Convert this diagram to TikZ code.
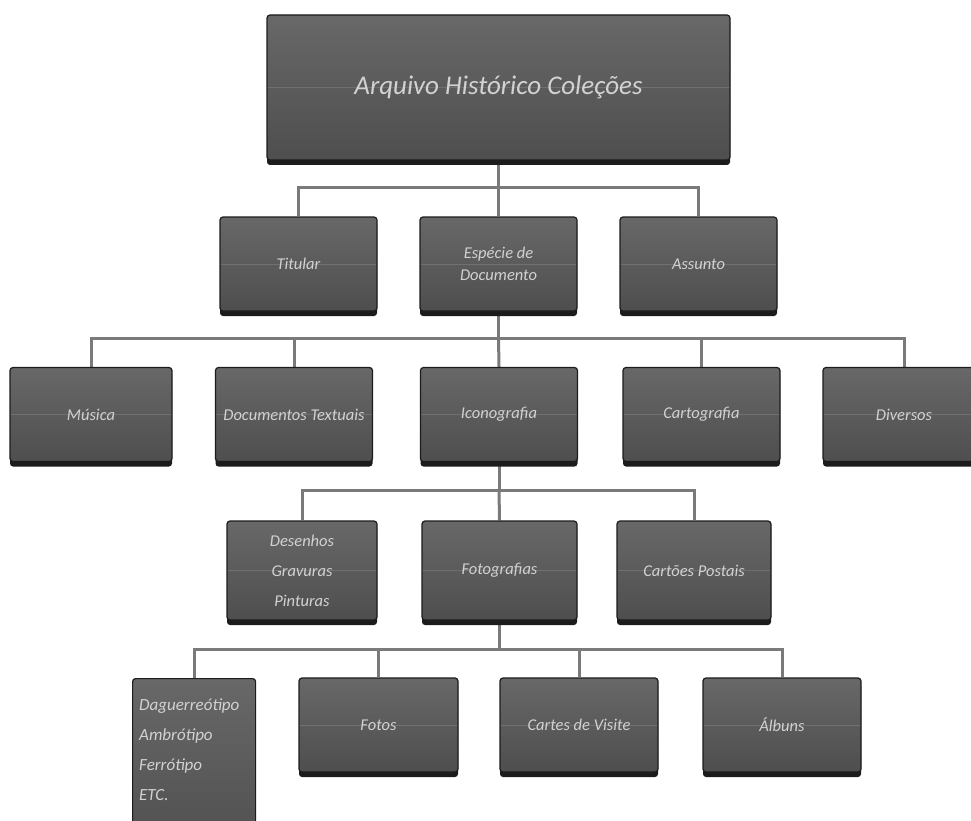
\documentclass[tikz,border=0pt]{standalone}
\usepackage{fontspec}
\setmainfont{Carlito}
\usetikzlibrary{shadows,backgrounds}

\definecolor{boxtop}{HTML}{686868}
\definecolor{boxbot}{HTML}{4E4E4E}
\definecolor{boxline}{HTML}{1C1C1C}
\definecolor{boxmid}{HTML}{707070}
\definecolor{boxtext}{HTML}{D2D2D2}
\definecolor{linkgray}{HTML}{7A7A7A}

\begin{document}
\begin{tikzpicture}[x=1pt, y=-1pt,
  box/.style={draw=boxline, line width=1.2pt, rounded corners=3pt,
    top color=boxtop, bottom color=boxbot, text=boxtext,
    font=\itshape\fontsize{16.5}{22}\selectfont, align=center,
    minimum width=157pt, minimum height=94pt, inner sep=2pt,
    path picture={\draw[boxmid, line width=0.6pt]
      (path picture bounding box.west) -- (path picture bounding box.east);},
    drop shadow={shadow xshift=0pt, shadow yshift=-5pt, fill=boxline, opacity=1}},
  link/.style={draw=linkgray, line width=3pt}]
  \useasboundingbox (0,0) rectangle (971,821);

  % top
  \node[box, minimum width=463pt, minimum height=145pt,
    font=\itshape\fontsize{27}{32}\selectfont] (arquivo) at (498.5,87.5) {Arquivo Histórico Coleções};

  % second row
  \node[box] (titular) at (298.5,264) {Titular};
  \node[box] (especie) at (498.5,264) {Espécie de\\Documento};
  \node[box] (assunto) at (698.5,264) {Assunto};

  % kinds of document
  \node[box, minimum width=162pt] (musica) at (91,414.5) {Música};
  \node[box] (textuais) at (294,414.5) {Documentos Textuais};
  \node[box] (iconografia) at (499,414.5) {Iconografia};
  \node[box] (cartografia) at (701.5,414.5) {Cartografia};
  \node[box, minimum width=162pt] (diversos) at (904,414.5) {Diversos};

  % iconografia
  \node[box, minimum width=150pt, minimum height=99pt] (desenhos) at (302,570.5) {Desenhos\\[8pt]Gravuras\\[8pt]Pinturas};
  \node[box, minimum width=155pt, minimum height=99pt] (fotografias) at (499.5,570.5) {Fotografias};
  \node[box, minimum width=154pt, minimum height=99pt] (cartoes) at (694,570.5) {Cartões Postais};

  % fotografias
  \node[box, anchor=north west, minimum width=123pt, minimum height=180pt, path picture={}] (processos) at (132,678) {};
  \node[anchor=north west, align=left, inner sep=0pt, text=boxtext,
    font=\itshape\fontsize{17}{22}\selectfont] (processostxt) at (139,699) {Daguerreótipo\\[8pt]Ambrótipo\\[8pt]Ferrótipo\\[8pt]ETC.};
  \node[box, minimum width=159pt] (fotos) at (378.5,725) {Fotos};
  \node[box, minimum width=158pt] (cartes) at (579,725) {Cartes de Visite};
  \node[box, minimum width=158pt] (albuns) at (782,725) {Álbuns};

  \begin{scope}[on background layer]
    \coordinate (bar1) at (498.5,188);
    \coordinate (bar2) at (498.5,338);
    \coordinate (bar3) at (499,490);
    \coordinate (bar4) at (499.5,649);
    \draw[link] (arquivo.south) -- (bar1);
    \draw[link] (bar1) -| (titular.north);
    \draw[link] (bar1) -- (especie.north);
    \draw[link] (bar1) -| (assunto.north);
    \draw[link] (especie.south) -- (bar2);
    \draw[link] (bar2) -| (musica.north);
    \draw[link] (bar2) -| (textuais.north);
    \draw[link] (bar2) -- (iconografia.north);
    \draw[link] (bar2) -| (cartografia.north);
    \draw[link] (bar2) -| (diversos.north);
    \draw[link] (iconografia.south) -- (bar3);
    \draw[link] (bar3) -| (desenhos.north);
    \draw[link] (bar3) -- (fotografias.north);
    \draw[link] (bar3) -| (cartoes.north);
    \draw[link] (fotografias.south) -- (bar4);
    \draw[link] (bar4) -| (processos.north);
    \draw[link] (bar4) -| (fotos.north);
    \draw[link] (bar4) -| (cartes.north);
    \draw[link] (bar4) -| (albuns.north);
  \end{scope}
\end{tikzpicture}
\end{document}
